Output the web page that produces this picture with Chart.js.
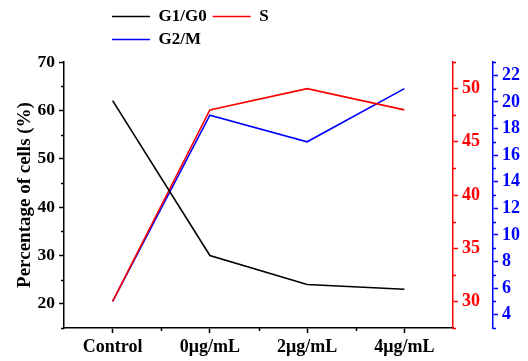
<!DOCTYPE html>
<html><head><meta charset="utf-8">
<script src="https://cdn.jsdelivr.net/npm/chart.js@4"></script>
<style>html,body{margin:0;padding:0;background:#fff}#wrap{width:528px;height:361px;position:relative}</style>
</head><body><div id="wrap"><canvas id="c"></canvas></div>
<script>
const categories = ['Control', '0μg/mL', '2μg/mL', '4μg/mL'];
const g1g0 = [62, 30, 24, 23];
const sPhase = [30, 48, 50, 48];
const g2m = [5, 19, 17, 21];
const leftTicks = [20, 30, 40, 50, 60, 70];
const redTicks = [30, 35, 40, 45, 50];
const blueTicks = [4, 6, 8, 10, 12, 14, 16, 18, 20, 22];

const FONT = 'Liberation Serif, Times New Roman, serif';
Chart.defaults.font.family = FONT;
Chart.defaults.font.weight = 'bold';
Chart.defaults.color = '#000';

function yAxis(pos, min, max, tickVals, color, width, fontSize, extra) {
  return Object.assign({
    type: 'linear', position: pos, min: min, max: max,
    afterBuildTicks: s => { s.ticks = tickVals.map(v => ({ value: v })); },
    afterFit: s => { s.width = width; },
    grid: { drawOnChartArea: false, drawTicks: true, tickLength: 5, color: color, tickWidth: 1.5 },
    border: { color: color, width: 1.5 },
    ticks: { color: color, font: { size: fontSize, weight: 'bold' }, padding: 4 }
  }, extra || {});
}

const minorTicks = {
  id: 'minorTicks',
  afterDraw(chart) {
    const ctx = chart.ctx;
    ctx.save();
    ctx.lineWidth = 1.5;
    Object.values(chart.scales).forEach(s => {
      const color = s.options.border.color;
      ctx.strokeStyle = color;
      let vals = [];
      if (s.axis === 'x') {
        for (let i = 0; i < categories.length - 1; i++) vals.push(i + 0.5);
      } else {
        const t = s.ticks.map(k => k.value);
        const step = t[1] - t[0];
        for (let v = t[0] - step / 2; v <= s.max + 1e-9; v += step) if (v >= s.min - 1e-9) vals.push(v);
      }
      vals.forEach(v => {
        const p = Math.round(s.getPixelForValue(v)) + 0.5;
        ctx.beginPath();
        if (s.axis === 'x') { ctx.moveTo(p, s.top); ctx.lineTo(p, s.top + 3); }
        else if (s.position === 'left') { ctx.moveTo(s.right, p); ctx.lineTo(s.right - 3, p); }
        else { ctx.moveTo(s.left, p); ctx.lineTo(s.left + 3, p); }
        ctx.stroke();
      });
    });
    ctx.restore();
  }
};

const legendPlacer = {
  id: 'legendPlacer',
  afterLayout(chart) {
    const lg = chart.legend;
    lg.left = chart.chartArea.left + 42;
    lg.right = lg.left + 215;
    lg.top = 2;
    lg.bottom = 58;
  }
};

new Chart(document.getElementById('c'), {
  type: 'line',
  data: {
    labels: categories,
    datasets: [
      { label: 'G1/G0', data: g1g0, borderColor: '#000', backgroundColor: '#000', yAxisID: 'yL', borderWidth: 1.6, pointRadius: 0, tension: 0 },
      { label: 'S', data: sPhase, borderColor: '#ff0000', backgroundColor: '#ff0000', yAxisID: 'yR', borderWidth: 1.6, pointRadius: 0, tension: 0 },
      { label: 'G2/M', data: g2m, borderColor: '#0000ff', backgroundColor: '#0000ff', yAxisID: 'yB', borderWidth: 1.6, pointRadius: 0, tension: 0 }
    ]
  },
  options: {
    responsive: true, maintainAspectRatio: false, animation: false, devicePixelRatio: 1,
    layout: { padding: { top: 29, left: 0, right: 0, bottom: 0 } },
    plugins: {
      tooltip: { enabled: false },
      legend: {
        position: 'top', align: 'start',
        labels: { usePointStyle: true, pointStyle: 'line', pointStyleWidth: 38, padding: 6, color: '#000', font: { size: 17, weight: 'bold' } }
      }
    },
    scales: {
      x: {
        type: 'category', offset: true,
        afterFit: s => { s.height = 33; },
        grid: { drawOnChartArea: false, drawTicks: true, tickLength: 5, offset: false, color: '#000', tickWidth: 1.5 },
        border: { color: '#000', width: 1.5 },
        ticks: { color: '#000', font: { size: 18, weight: 'bold' }, padding: 4, maxRotation: 0, autoSkip: false }
      },
      yL: yAxis('left', 15, 70, leftTicks, '#000', 64, 17.5, {
        title: { display: true, text: 'Percentage of cells (%)', color: '#000', font: { size: 19, weight: 'bold' }, padding: { top: 14, bottom: 0 } }
      }),
      yR: yAxis('right', 27.5, 52.5, redTicks, '#ff0000', 40, 18),
      yB: yAxis('right', 3, 23, blueTicks, '#0000ff', 35, 18)
    }
  },
  plugins: [minorTicks, legendPlacer]
});
</script></body></html>
